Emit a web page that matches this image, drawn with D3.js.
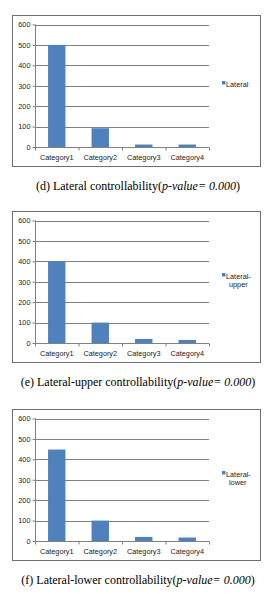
<!DOCTYPE html>
<html>
<head>
<meta charset="utf-8">
<script src="https://cdn.jsdelivr.net/npm/d3@7"></script>
<style>
  body { margin: 0; background: #fff; }
  svg { display: block; }
</style>
</head>
<body>
<div id="chart"></div>
<script>
// data
const categories = ['Category1', 'Category2', 'Category3', 'Category4']
const yTicks = [0, 100, 200, 300, 400, 500, 600]
const lateral = [500, 92, 12, 12]
const lateralUpper = [400, 100, 20, 15]
const lateralLower = [448, 100, 20, 17]
const legendNames = [['Lateral'], ['Lateral-', 'upper'], ['Lateral-', 'lower']]
const captions = [
  ['(d) Lateral controllability(', 'p-value', '= 0.000', ')'],
  ['(e) Lateral-upper controllability(', 'p-value', '= 0.000', ')'],
  ['(f) Lateral-lower controllability(', 'p-value', '= 0.000', ')']
]
const seriesList = [lateral, lateralUpper, lateralLower]

const W = 264, H = 594
const svg = d3.select('#chart').append('svg').attr('width', W).attr('height', H)

// each panel: box top and caption centre
const panels = [
  { top: 15, cap: 190 },
  { top: 211, cap: 386 },
  { top: 409, cap: 584 }
]

const labelFont = '7.3px "Liberation Sans", Arial, sans-serif'

const x = d3.scaleBand().domain(categories).range([35, 209]).paddingInner(0.6).paddingOuter(0.3)
const xTick = d3.scaleBand().domain(categories).range([35, 209])

panels.forEach((p, i) => {
  const g = svg.append('g').attr('transform', `translate(0,${p.top})`)
  const y = d3.scaleLinear().domain([0, 600]).range([132, 9.5])

  // outer box
  g.append('rect')
    .attr('x', 12.5).attr('y', 0.5).attr('width', 248).attr('height', 151)
    .attr('fill', '#fff').attr('stroke', '#6e6e6e').attr('stroke-width', 1)

  // gridlines
  g.selectAll('.grid').data(yTicks.slice(1)).enter().append('line')
    .attr('x1', 35).attr('x2', 209)
    .attr('y1', d => Math.round(y(d)) + 0.5).attr('y2', d => Math.round(y(d)) + 0.5)
    .attr('stroke', '#808080').attr('stroke-width', 1)

  // bars
  g.selectAll('.bar').data(seriesList[i]).enter().append('rect')
    .attr('x', (d, j) => x(categories[j]))
    .attr('y', d => y(d))
    .attr('width', x.bandwidth())
    .attr('height', d => y(0) - y(d))
    .attr('fill', '#4f81bd')

  // y axis
  const yAxis = d3.axisLeft(y).tickValues(yTicks).tickSize(3).tickPadding(2)
  const ya = g.append('g').attr('transform', 'translate(35.5,0)').call(yAxis)
  ya.select('.domain').attr('stroke', '#808080').attr('d', `M0,${y(600)}V${y(0)}`)
  ya.selectAll('.tick line').attr('stroke', '#808080')
  ya.selectAll('text').attr('fill', '#222').style('font', labelFont)

  // x axis with ticks between categories
  const xa = g.append('g').attr('transform', `translate(0,${Math.round(y(0)) + 0.5})`)
  xa.append('line').attr('x1', 35).attr('x2', 209).attr('stroke', '#808080')
  xa.selectAll('.xt').data(categories.concat([null])).enter().append('line')
    .attr('x1', (d, j) => j < 4 ? xTick(categories[j]) + 0.5 : 209.5)
    .attr('x2', (d, j) => j < 4 ? xTick(categories[j]) + 0.5 : 209.5)
    .attr('y1', 0).attr('y2', 3).attr('stroke', '#808080')
  xa.selectAll('.xl').data(categories).enter().append('text')
    .attr('x', d => xTick(d) + xTick.bandwidth() / 2)
    .attr('y', 12)
    .attr('text-anchor', 'middle')
    .attr('fill', '#222')
    .style('font', labelFont)
    .text(d => d)

  // legend
  const names = legendNames[i]
  const ly = names.length > 1 ? 65 : 69
  g.append('rect').attr('x', 222).attr('y', ly - 3).attr('width', 3.5).attr('height', 3.5).attr('fill', '#4f81bd')
  names.forEach((t, k) => {
    g.append('text')
      .attr('x', k == 0 ? 226 : 229).attr('y', ly + 2.5 + k * 8)
      .attr('fill', '#222')
      .style('font', labelFont)
      .text(t)
  })

  // caption under the box
  const c = captions[i]
  const cap = svg.append('text')
    .attr('x', 138).attr('y', p.cap)
    .attr('text-anchor', 'middle')
    .attr('fill', '#000')
    .style('font', '12px "Liberation Serif", "Times New Roman", serif')
  cap.append('tspan').text(c[0])
  cap.append('tspan').style('font-style', 'italic').text(c[1])
  cap.append('tspan').style('font-style', 'italic').text(c[2])
  cap.append('tspan').text(c[3])
})
</script>
</body>
</html>
